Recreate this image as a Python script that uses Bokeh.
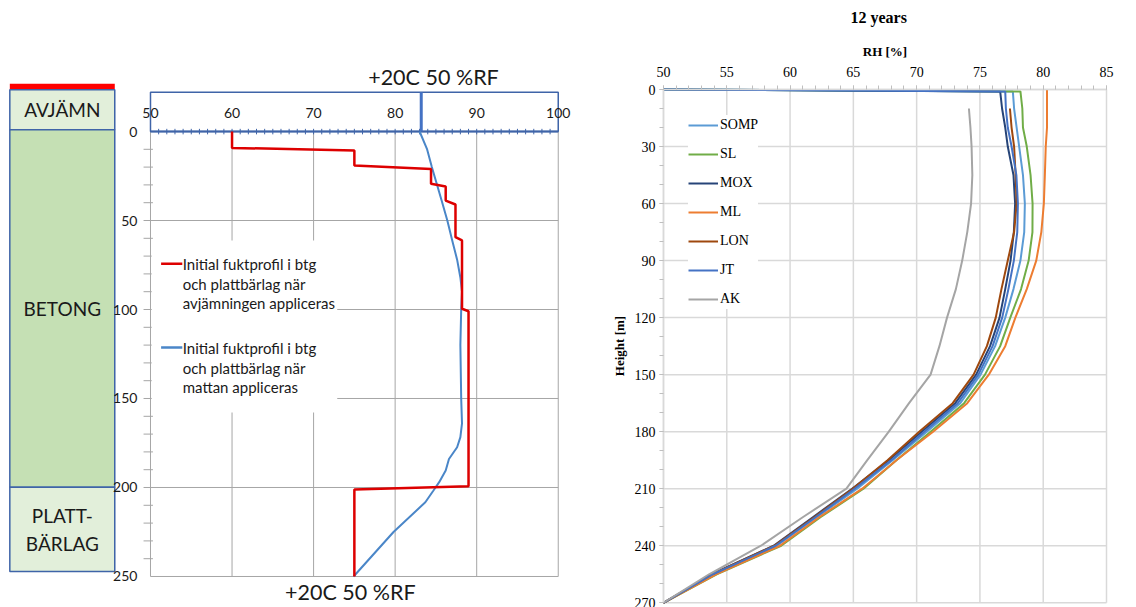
from bokeh.plotting import figure
from bokeh.models import Range1d, FixedTicker, Legend, LegendItem, LinearAxis
from bokeh.core.properties import value
from bokeh.embed import file_html
from bokeh.resources import INLINE

# ---------------- left chart data ----------------
RH_TICKS = [50, 60, 70, 80, 90, 100]
DEPTH_TICKS = [0, 50, 100, 150, 200, 250]
RED_RH = [60, 60, 75, 75, 84.4, 84.4, 86.2, 86.2, 87.4, 87.4, 88.2, 88.2, 89.0, 89.0, 75, 75]
RED_DEPTH = [0, 9.2, 10.7, 19.1, 21, 29.4, 30.9, 38.8, 41, 59.4, 61.2, 99.6, 101, 199.3, 201.1, 250]
BLUE_RH = [83.0, 83.9, 84.5, 85.1, 85.7, 86.4, 87.0, 87.6, 88.0, 88.2, 88.1, 88.0, 88.1, 88.2, 88.0,
           87.6, 86.6, 86.2, 85.4, 84.7, 83.7, 79.8, 74.9]
BLUE_DEPTH = [0, 9.7, 20, 29.4, 38.8, 50, 61.2, 72, 82, 90, 100, 120, 150, 164, 171.7,
              177.4, 184, 190.4, 197, 201.7, 208.3, 225, 250]
SURFACE_RH = 83.2
CLIMATE = "+20C 50 %RF"
RED_LABEL = ["Initial fuktprofil i btg", "och plattbärlag när", "avjämningen appliceras"]
BLUE_LABEL = ["Initial fuktprofil i btg", "och plattbärlag när", "mattan appliceras"]
LAYER_NAMES = [["AVJÄMN"], ["BETONG"], ["PLATT-", "BÄRLAG"]]
LAYER_TOP = [-23.4, -1.0, 199.8]
LAYER_BOTTOM = [-1.0, 199.8, 247.2]

# ---------------- right chart data ----------------
TITLE_R = "12 years"
HEIGHT = [0, 1, 10, 20, 30, 45, 60, 75, 90, 105, 120, 135, 150, 165, 180, 195, 210, 225, 240, 255, 270]
SOMP = [50, 77.6, 77.7, 77.9, 78.1, 78.4, 78.55, 78.5, 78.2, 77.65, 77.0, 76.2, 75.05, 73.45, 70.8,
        68.1, 65.3, 62.1, 58.95, 54.0, 50]
SL = [50, 78.2, 78.35, 78.4, 78.7, 79.0, 79.16, 79.15, 78.85, 78.25, 77.4, 76.6, 75.4, 73.75, 71.1,
      68.4, 65.8, 62.4, 59.3, 54.2, 50]
MOX = [50, 76.6, 76.75, 77.0, 77.2, 77.65, 77.78, 77.68, 77.42, 77.0, 76.55, 75.8, 74.7, 73.05, 70.4,
       67.8, 64.9, 61.8, 58.7, 53.8, 50]
ML = [80.3, 80.3, 80.3, 80.3, 80.2, 80.13, 80.05, 79.85, 79.45, 78.7, 77.8, 77.0, 75.7, 74.0, 71.3,
      68.4, 65.7, 62.3, 59.2, 54.15, 50]
JT = [50, 77.0, 77.05, 77.2, 77.5, 77.88, 78.0, 77.95, 77.68, 77.25, 76.76, 76.0, 74.87, 73.25, 70.6,
      68.0, 65.1, 62.0, 58.85, 53.9, 50]
HEIGHT_LATE = HEIGHT[2:]
LON = [77.37, 77.5, 77.7, 77.82, 77.9, 77.7, 77.2, 76.7, 76.25, 75.55, 74.5, 72.85, 70.2,
       67.7, 64.95, 61.9, 58.75, 53.85, 50]
AK = [74.13, 74.25, 74.34, 74.4, 74.3, 74.0, 73.6, 73.1, 72.4, 71.8, 71.1, 69.4, 67.8,
      66.1, 64.45, 61.0, 57.7, 53.6, 50]
SERIES = [("SOMP", HEIGHT, SOMP, "#5B9BD5"), ("SL", HEIGHT, SL, "#70AD47"),
          ("MOX", HEIGHT, MOX, "#264478"), ("ML", HEIGHT, ML, "#ED7D31"),
          ("LON", HEIGHT_LATE, LON, "#9E480E"), ("JT", HEIGHT, JT, "#4472C4"),
          ("AK", HEIGHT_LATE, AK, "#A5A5A5")]
X_TICKS = [50, 55, 60, 65, 70, 75, 80, 85]
Y_TICKS = [0, 30, 60, 90, 120, 150, 180, 210, 240, 270]

FONT_L = value("Lato")
SERIF = "Liberation Serif"
BOX_BLUE = "#3F64A8"
GRID_L = "#A6A6A6"
GRID_R = "#D9D9D9"
TXT = "#1A1A1A"

# one canvas; left chart on default ranges, right chart on extra ranges
p = figure(width=1136, height=607, x_range=Range1d(31.607, 170.91), y_range=Range1d(267.42, -73.6),
           x_axis_location=None, y_axis_location=None, output_backend="svg",
           toolbar_location=None, min_border=0, outline_line_color=None)
p.grid.visible = False
p.extra_x_ranges = {"rx": Range1d(-2.38, 87.37)}
p.extra_y_ranges = {"ry": Range1d(272.49, -46.82)}

# ================= LEFT CHART =================
xmin, xmax = RH_TICKS[0], RH_TICKS[-1]
dmin, dmax = DEPTH_TICKS[0], DEPTH_TICKS[-1]

col_l, col_r = 32.75, 45.62
fills = ["#E2EFDA", "#C5E0B4", "#E2EFDA"]
p.quad(left=col_l, right=col_r, top=-26.8, bottom=LAYER_TOP[0], fill_color="#FF0000", line_color=None)
p.quad(left=[col_l] * 3, right=[col_r] * 3, top=LAYER_TOP, bottom=LAYER_BOTTOM,
       fill_color=fills, line_color=BOX_BLUE, line_width=1.5)
for names, t, b in zip(LAYER_NAMES, LAYER_TOP, LAYER_BOTTOM):
    mid = (t + b) / 2
    n = len(names)
    for i, nm in enumerate(names):
        p.text(x=[(col_l + col_r) / 2], y=[mid + (i - (n - 1) / 2) * 15.8], text=[nm],
               text_font=FONT_L, text_font_size="19px", text_align="center",
               text_baseline="middle", text_color=TXT)

vx = [t for t in RH_TICKS if t > xmin]
p.segment(x0=vx, y0=[dmin] * len(vx), x1=vx, y1=[dmax] * len(vx), line_color=GRID_L, line_width=1)
hy = [t for t in DEPTH_TICKS if t > dmin]
p.segment(x0=[xmin] * len(hy), y0=hy, x1=[xmax] * len(hy), y1=hy, line_color=GRID_L, line_width=1)

p.segment(x0=[xmin], y0=[dmin], x1=[xmin], y1=[dmax], line_color=GRID_L, line_width=1)
minor_d = list(range(dmin + 10, dmax, 10))
p.segment(x0=[xmin - 0.85] * len(minor_d), y0=minor_d, x1=[xmin + 0.3] * len(minor_d), y1=minor_d,
          line_color=GRID_L, line_width=1)
p.text(x=[xmin - 1.6] * len(DEPTH_TICKS), y=DEPTH_TICKS, text=[str(t) for t in DEPTH_TICKS],
       text_font=FONT_L, text_font_size="14px", text_align="right", text_baseline="middle",
       text_color=TXT)

# legend of left chart
p.quad(left=xmin + 0.15, right=72.9, top=61.2, bottom=157.9, fill_color="white", line_color=None)
p.segment(x0=[51.3], y0=[74.3], x1=[53.9], y1=[74.3], line_color="#DD0000", line_width=2.5)
p.segment(x0=[51.3], y0=[121.4], x1=[53.9], y1=[121.4], line_color="#4A86C8", line_width=2.5)
for i, s in enumerate(RED_LABEL):
    p.text(x=[53.95], y=[74.6 + i * 10.9], text=[s], text_font=FONT_L, text_font_size="15px",
           text_baseline="middle", text_color=TXT)
for i, s in enumerate(BLUE_LABEL):
    p.text(x=[53.95], y=[121.9 + i * 10.7], text=[s], text_font=FONT_L, text_font_size="15px",
           text_baseline="middle", text_color=TXT)

# top box with axis
p.quad(left=xmin, right=xmax, top=-22.1, bottom=0, fill_color=None, line_color=BOX_BLUE, line_width=1.5)
minor_x = list(range(xmin + 1, xmax))
p.segment(x0=minor_x, y0=[-1.5] * len(minor_x), x1=minor_x, y1=[1.6] * len(minor_x),
          line_color=BOX_BLUE, line_width=1)
p.segment(x0=[xmin], y0=[0], x1=[xmax], y1=[0], line_color=BOX_BLUE, line_width=2)
p.text(x=RH_TICKS, y=[-10.3] * len(RH_TICKS), text=[str(t) for t in RH_TICKS],
       text_font=FONT_L, text_font_size="14px", text_align="center", text_baseline="middle",
       text_color=TXT)
p.segment(x0=[SURFACE_RH], y0=[-22.1], x1=[SURFACE_RH], y1=[0], line_color="#4472C4", line_width=3)

p.text(x=[84.7], y=[-30.9], text=[CLIMATE], text_font=FONT_L, text_font_size="21.5px",
       text_align="center", text_baseline="middle", text_color=TXT)
p.text(x=[74.5], y=[258.8], text=[CLIMATE], text_font=FONT_L, text_font_size="21.5px",
       text_align="center", text_baseline="middle", text_color=TXT)

p.line(x=BLUE_RH, y=BLUE_DEPTH, line_color="#4A86C8", line_width=2)
p.line(x=RED_RH, y=RED_DEPTH, line_color="#DD0000", line_width=2.5)

# ================= RIGHT CHART =================
R = dict(x_range_name="rx", y_range_name="ry")
x0, x1 = X_TICKS[0], X_TICKS[-1]
h0, h1 = Y_TICKS[0], Y_TICKS[-1]
p.segment(x0=X_TICKS, y0=[h0] * len(X_TICKS), x1=X_TICKS, y1=[h1] * len(X_TICKS),
          line_color=GRID_R, line_width=1.5, **R)
p.segment(x0=[x0] * len(Y_TICKS), y0=Y_TICKS, x1=[x1] * len(Y_TICKS), y1=Y_TICKS,
          line_color=GRID_R, line_width=1.5, **R)

xr = LinearAxis(fixed_location=0, bounds=(x0, x1), axis_label="RH [%]",
                ticker=FixedTicker(ticks=X_TICKS, minor_ticks=list(range(x0, x1 + 1))), **R)
yr = LinearAxis(fixed_location=50, bounds=(h0, h1), axis_label="Height [m]",
                ticker=FixedTicker(ticks=Y_TICKS, minor_ticks=list(range(h0, h1 + 1, 10))), **R)
for ax in (xr, yr):
    ax.axis_label_text_font = SERIF
    ax.axis_label_text_font_style = "bold"
    ax.axis_label_text_font_size = "13px"
    ax.axis_label_text_color = "#000000"
    ax.major_label_text_font = SERIF
    ax.major_label_text_font_size = "14px"
    ax.major_label_text_color = "#000000"
    ax.axis_line_color = GRID_R
    ax.axis_line_width = 1.5
    ax.major_tick_in = 0
    ax.major_tick_out = 4
    ax.minor_tick_in = 0
    ax.minor_tick_out = 4
    ax.major_tick_line_color = "#BFBFBF"
    ax.minor_tick_line_color = "#BFBFBF"
    ax.axis_label_standoff = 5
xr.major_label_standoff = 9
yr.major_label_standoff = 4
p.add_layout(xr, "above")
p.add_layout(yr, "left")

p.text(x=[(x0 + x1) / 2 - 0.5], y=[-38.0], text=[TITLE_R], text_font=value(SERIF),
       text_font_style="bold", text_font_size="16px", text_align="center",
       text_baseline="middle", text_color="#000000", **R)

items = []
for name, hs, vals, col in SERIES:
    r = p.line(x=vals, y=hs, line_color=col, line_width=2, **R)
    items.append(LegendItem(label=name, renderers=[r]))

legend = Legend(items=items, location=(688, 298), orientation="vertical",
                glyph_width=30, glyph_height=20, label_height=20, spacing=9, padding=9,
                label_standoff=2, margin=0, border_line_color=None,
                background_fill_color="white", background_fill_alpha=1.0,
                label_text_font=SERIF, label_text_font_size="14px", label_text_color="#000000")
p.add_layout(legend)

open("out.html", "w").write(file_html(p, INLINE))
